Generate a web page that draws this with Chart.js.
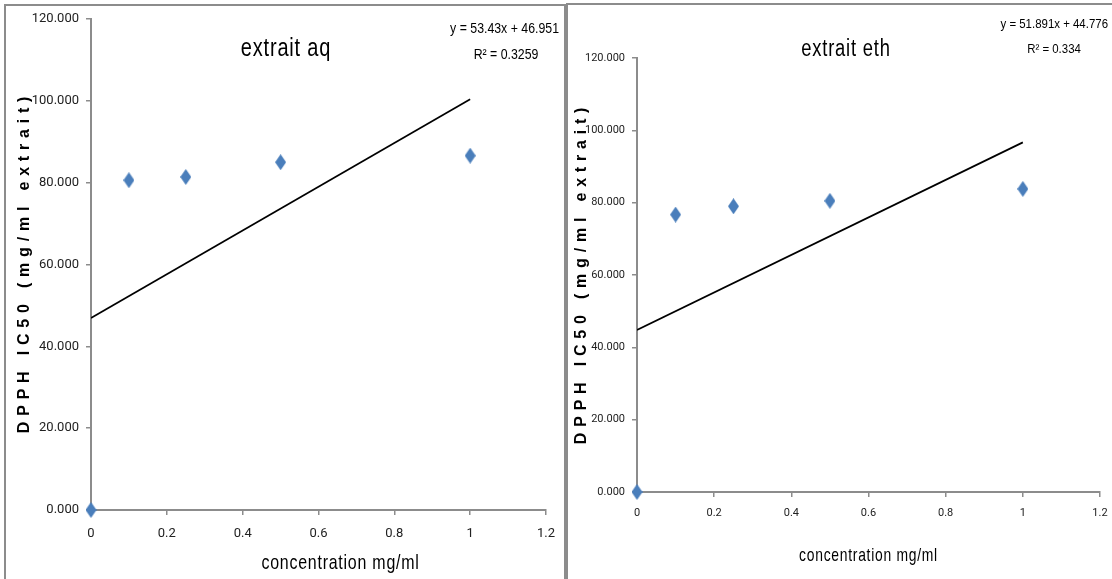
<!DOCTYPE html>
<html>
<head>
<meta charset="utf-8">
<script src="https://cdn.jsdelivr.net/npm/chart.js@4.4.1/dist/chart.umd.min.js"></script>
<style>
  body { margin: 0; background: #fff; width: 1112px; height: 579px; overflow: hidden; position: relative; }
  .panel { position: absolute; background: #fff; box-sizing: border-box; }
  #p1 { left: 4px; top: 4px; width: 562px; height: 600px; border: 2px solid #8c8c8c; }
  #p2 { left: 566px; top: 3px; width: 560px; height: 600px; border: 2px solid #8c8c8c; border-right: none; }
  canvas { position: absolute; left: 0; top: 0; }
</style>
</head>
<body>
<div class="panel" id="p1"><canvas id="c1" width="558" height="573"></canvas></div>
<div class="panel" id="p2"><canvas id="c2" width="546" height="574"></canvas></div>
<script>
// data
const concAq = [0, 0.1, 0.25, 0.5, 1];
const dpphAq = [0, 80.6, 81.4, 85.0, 86.6];
const concEth = [0, 0.1, 0.25, 0.5, 1];
const dpphEth = [0, 76.7, 79.0, 80.5, 83.8];

// linear trendlines as printed on the chart
const slopeAq = 53.43, interceptAq = 46.951, r2Aq = '0.3259';
const slopeEth = 51.891, interceptEth = 44.776, r2Eth = '0.334';
const trendX = [0, 1];

const yMin = 0, yMax = 120, yStep = 20;
const xMin = 0, xMax = 1.2, xStep = 0.2;

const sans = '"Liberation Sans", Arial, sans-serif';
const tickFont = 'Roboto, "Liberation Sans", sans-serif';
const axisGray = '#8c8c8c';
const blue = '#4A7EBB';

// diamond marker, a bit taller than wide
let diamond = document.createElement('canvas');
diamond.width = 11; diamond.height = 16;
let dctx = diamond.getContext('2d');
dctx.fillStyle = blue;
dctx.beginPath();
dctx.moveTo(5.5, 0); dctx.lineTo(11, 8); dctx.lineTo(5.5, 16); dctx.lineTo(0, 8);
dctx.closePath(); dctx.fill();

// no narrow font installed, so squeeze the text sideways
function narrowText(ctx, text, x, y, sx) {
  ctx.save();
  ctx.translate(x, y);
  ctx.scale(sx, 1);
  ctx.fillText(text, 0, 0);
  ctx.restore();
}

function makeChart(id, xs, ys, slope, intercept, r2, title, cfg) {
  let pts = xs.map((x, i) => ({ x: x, y: ys[i] }));
  let trend = trendX.map(x => ({ x: x, y: slope * x + intercept }));

  let labels = {
    id: 'labels',
    afterDraw(chart) {
      let ctx = chart.ctx;
      let a = chart.chartArea;
      ctx.save();
      ctx.fillStyle = '#000';
      ctx.textBaseline = 'middle';

      ctx.font = cfg.titleSize + 'px ' + sans;
      ctx.textAlign = 'center';
      ctx.letterSpacing = '1px';
      narrowText(ctx, title, cfg.titleX, cfg.titleY, 0.8);

      ctx.font = cfg.eqSize + 'px ' + sans;
      ctx.letterSpacing = '0px';
      ctx.textAlign = 'right';
      let sign = intercept >= 0 ? ' + ' : ' - ';
      narrowText(ctx, 'y = ' + slope + 'x' + sign + Math.abs(intercept), cfg.eqX, cfg.eqY, 0.88);
      ctx.textAlign = 'center';
      narrowText(ctx, 'R\u00b2 = ' + r2, cfg.r2X, cfg.r2Y, 0.88);

      ctx.font = cfg.xtSize + 'px ' + sans;
      ctx.letterSpacing = '1px';
      narrowText(ctx, 'concentration mg/ml', (a.left + a.right) / 2 + cfg.xtDx, cfg.xtY, cfg.xtScale);

      ctx.translate(cfg.ytX, cfg.ytY);
      ctx.rotate(-Math.PI / 2);
      ctx.font = 'bold ' + cfg.ytSize + 'px ' + sans;
      ctx.letterSpacing = cfg.ytSpacing + 'px';
      ctx.fillText('DPPH IC50 (mg/ml extrait)', 0, 0);
      ctx.restore();
    }
  };

  return new Chart(document.getElementById(id), {
    type: 'scatter',
    data: {
      datasets: [
        {
          label: 'DPPH',
          data: pts,
          pointStyle: diamond,
          pointRadius: 6,
          pointHoverRadius: 6,
          clip: false
        },
        {
          label: 'trend',
          data: trend,
          showLine: true,
          borderColor: '#000',
          borderWidth: 1.7,
          pointRadius: 0,
          fill: false
        }
      ]
    },
    options: {
      responsive: false,
      animation: false,
      layout: { padding: { left: 0, right: cfg.padRight, top: cfg.padTop, bottom: 0 } },
      plugins: { legend: { display: false }, tooltip: { enabled: false } },
      scales: {
        x: {
          type: 'linear',
          min: xMin, max: xMax,
          afterFit(s) { s.height = cfg.xHeight; s.paddingLeft = 0; s.paddingRight = 0; },
          border: { color: axisGray, width: 2 },
          grid: { drawOnChartArea: false, drawTicks: true, tickLength: 5, color: axisGray, lineWidth: 1.5 },
          ticks: {
            stepSize: xStep,
            padding: cfg.xPad,
            color: '#222',
            font: { family: tickFont, size: cfg.tickSize },
            callback: v => String(Number(v.toFixed(1)))
          }
        },
        y: {
          min: yMin, max: yMax,
          afterFit(s) { s.width = cfg.yWidth; s.paddingTop = 0; s.paddingBottom = 0; },
          border: { color: axisGray, width: 2 },
          grid: { drawOnChartArea: false, drawTicks: true, tickLength: 5, color: axisGray, lineWidth: 1.5 },
          ticks: {
            stepSize: yStep,
            padding: 7,
            color: '#222',
            font: { family: tickFont, size: cfg.tickSize },
            callback: v => v.toFixed(3)
          }
        }
      }
    },
    plugins: [labels]
  });
}

makeChart('c1', concAq, dpphAq, slopeAq, interceptAq, r2Aq, 'extrait aq', {
  padRight: 18, padTop: 13, xHeight: 69, yWidth: 85, xPad: 11, tickSize: 13,
  titleSize: 25, titleX: 280, titleY: 43,
  eqSize: 14, eqX: 553, eqY: 23, r2X: 500, r2Y: 49,
  xtSize: 21, xtDx: 22, xtY: 557, xtScale: 0.76,
  ytX: 19, ytY: 256, ytSize: 16, ytSpacing: 5.8
});

makeChart('c2', concEth, dpphEth, slopeEth, interceptEth, r2Eth, 'extrait eth', {
  padRight: 14, padTop: 53, xHeight: 87, yWidth: 69, xPad: 10, tickSize: 11,
  titleSize: 23, titleX: 278, titleY: 45,
  eqSize: 13, eqX: 540, eqY: 19, r2X: 486, r2Y: 44,
  xtSize: 19, xtDx: 0, xtY: 551, xtScale: 0.73,
  ytX: 14, ytY: 268, ytSize: 16, ytSpacing: 5.8
});
</script>
</body>
</html>
